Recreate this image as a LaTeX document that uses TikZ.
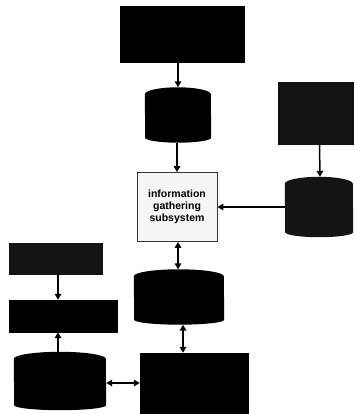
\documentclass[tikz,border=0pt]{standalone}
\usepackage{fontspec}
\setmainfont{Liberation Sans}
\usetikzlibrary{arrows.meta,calc}

% cylinder: a named, invisible rectangle node with a filled drum drawn over it
% #1 name, #2 x, #3 y, #4 width, #5 height, #6 fill colour
\newcommand\drumnode[6]{%
  \node[anchor=center, minimum width=#4pt, minimum height=#5pt, inner sep=0pt] (#1) at (#2,#3) {};
  \fill[#6] ([yshift=-7pt]#1.north west)
    arc[start angle=180, end angle=0, x radius=#4pt/2, y radius=7pt]
    -- ([yshift=5pt]#1.south east)
    arc[start angle=0, end angle=-180, x radius=#4pt/2, y radius=5pt]
    -- cycle;
}

\tikzset{
  block/.style={rectangle, inner sep=0pt, fill=#1, draw=#1},
  block/.default=black,
  infobox/.style={rectangle, fill=gray!8, draw=black!80, line width=0.8pt,
    minimum width=80pt, minimum height=69pt, align=center,
    font=\fontsize{10.5}{12}\selectfont\bfseries},
  flow/.style={line width=1.5pt, -{Triangle[length=6pt,width=6.5pt]}},
  flow2/.style={line width=1.5pt, {Triangle[length=6pt,width=6.5pt]}-{Triangle[length=6pt,width=6.5pt]}},
}

\begin{document}
\begin{tikzpicture}[x=1pt, y=1pt]
  \useasboundingbox (0,0) rectangle (354,414);

  % central column
  \node[block, minimum width=124pt, minimum height=56pt] (source) at (182.5,380) {};
  \drumnode{store}{178}{299}{66}{55}{black}
  \node[infobox] (info) at (177,207) {information\\gathering\\subsystem};
  \drumnode{base}{179}{117}{90}{55}{black}
  \node[block, minimum width=108pt, minimum height=60pt] (proc) at (194,31) {};

  % right branch
  \node[block=black!93, minimum width=75pt, minimum height=62pt] (extern) at (315.5,301) {};
  \drumnode{extstore}{319}{207}{68}{60}{black!92}

  % left branch
  \node[block=black!92, minimum width=93pt, minimum height=31pt] (input) at (55.5,155.5) {};
  \node[block, minimum width=108pt, minimum height=32pt] (user) at (63,98) {};
  \drumnode{local}{60}{33}{92}{58}{black}

  % connectors
  \draw[flow] (store.north |- source.south) -- (store.north);
  \draw[flow] (info.north |- store.south) -- (info.north);
  \draw[flow] ($(extern.south)+(4,0)$) -- ($(extstore.north)+(1,0)$);
  \draw[flow] (extstore.west |- info.east) -- (info.east);
  \draw[flow2] ([xshift=1pt]info.south) -- ([xshift=1pt]info.south |- base.north);
  \draw[flow2] ([xshift=4pt]base.south) -- ([xshift=4pt]base.south |- proc.north);
  \draw[flow] ([xshift=-5pt]input.south -| user.south) -- ([xshift=-5pt]user.north);
  \draw[flow] ([xshift=-5pt]local.north -| user.south) -- ([xshift=-5pt]user.south);
  \draw[flow2] (local.east |- 0,31) -- (proc.west |- 0,31);
\end{tikzpicture}
\end{document}
